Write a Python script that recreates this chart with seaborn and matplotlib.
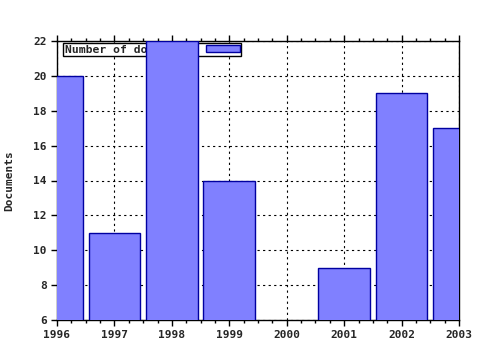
import numpy as np
import pandas as pd
import matplotlib
matplotlib.use("Agg")
import matplotlib.pyplot as plt
from matplotlib.ticker import MultipleLocator
import seaborn as sns

years = [1996, 1997, 1998, 1999, 2000, 2001, 2002, 2003]
documents = [20, 11, 22, 14, np.nan, 9, 19, 17]
series_label = "Number of documents"

sns.set_style("white")
plt.rcParams['font.family'] = ['DejaVu Sans Mono']
plt.rcParams['font.weight'] = 'bold'

df = pd.DataFrame({"year": years, "docs": documents})

fig = plt.figure(figsize=(4.8, 3.5), dpi=100)
ax = fig.add_axes([57/480, 1-320/350, (459-57)/480, (320-41)/350])

sns.barplot(data=df, x="year", y="docs", native_scale=True, width=0.9,
            color="#8080FF", saturation=1, edgecolor="#0000A0", linewidth=1,
            label=series_label, ax=ax, zorder=3)

ax.set_xlim(1996, 2003)
ax.set_ylim(6, 22)
ax.xaxis.set_minor_locator(MultipleLocator(0.25))
ax.yaxis.set_major_locator(MultipleLocator(2))
ax.set_xticks(years)
ax.set_xticklabels([str(y) for y in years], fontweight='bold', fontsize=8)
ax.tick_params(axis='y', labelsize=8)
for t in ax.get_yticklabels():
    t.set_fontweight('bold')

ax.tick_params(axis='both', which='major', direction='out', length=4, width=1,
               color='black', top=True, bottom=True, left=True, right=False)
ax.tick_params(axis='x', which='minor', direction='out', length=2, width=1,
               color='black', top=True, bottom=True)

ax.set_xlabel("")
ax.set_ylabel("Documents", fontsize=8, fontweight='bold')
ax.yaxis.set_label_coords(-0.107, 0.5)

for s in ax.spines.values():
    s.set_visible(True)
    s.set_color('black')
    s.set_linewidth(1)

ax.set_axisbelow(True)
ax.grid(True, which='major', color='black', linestyle=(0, (2, 3)), linewidth=0.8)

leg = ax.legend(loc='upper left', bbox_to_anchor=(0.015, 0.993),
                markerfirst=False, fancybox=False,
                frameon=True, borderaxespad=0, borderpad=0.15,
                handlelength=3.0, handleheight=0.55, handletextpad=0.9,
                prop={'family': 'DejaVu Sans Mono', 'weight': 'bold', 'size': 8.2})
leg.get_frame().set_edgecolor('black')
leg.get_frame().set_linewidth(1)
leg.get_frame().set_alpha(1)
leg.set_zorder(2)

fig.savefig("out.png", dpi=100)
